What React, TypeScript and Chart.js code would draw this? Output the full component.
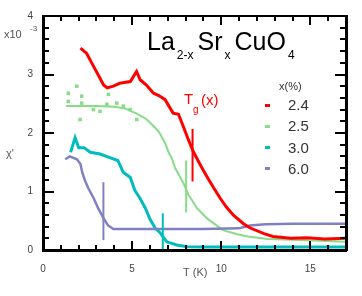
import React, { useEffect, useRef } from 'react';
import { Chart, registerables } from 'chart.js';

Chart.register(...registerables);

// ---- data (T in K, chi in units of 1e-3) ----
const T_24 = [2.1, 2.45, 2.8, 3.1, 3.4, 3.6, 3.95, 4.3, 4.9, 5.25, 5.45, 5.8, 6.2, 6.5, 6.85, 7.3, 7.6, 7.9, 8.15, 8.45, 8.8, 9.0, 9.3, 9.6, 9.95, 10.3, 10.7, 11.25, 11.6, 12.4, 12.9, 13.9, 14.8, 15.8, 17.0];
const CHI_24 = [3.45, 3.36, 3.16, 2.99, 2.82, 2.77, 2.8, 2.85, 2.88, 3.05, 2.91, 2.82, 2.68, 2.64, 2.57, 2.34, 2.32, 2.09, 1.89, 1.67, 1.47, 1.36, 1.2, 1.05, 0.88, 0.73, 0.59, 0.45, 0.38, 0.28, 0.23, 0.2, 0.21, 0.19, 0.2];

const T_25 = [1.3, 2.0, 3.0, 4.0, 4.6, 5.2, 5.8, 6.2, 6.5, 6.85, 7.05, 7.25, 7.4, 7.6, 7.9, 8.15, 8.3, 8.65, 9.2, 9.6, 10.1, 10.9, 11.5, 12.6, 14.4, 17.0];
const CHI_25 = [2.46, 2.46, 2.46, 2.45, 2.42, 2.34, 2.24, 2.12, 2.02, 1.83, 1.67, 1.55, 1.41, 1.3, 1.13, 0.95, 0.88, 0.71, 0.54, 0.45, 0.34, 0.27, 0.23, 0.19, 0.17, 0.14];
const T_25_PTS = [1.42, 1.42, 1.9, 2.08, 2.17, 2.17, 2.83, 3.2, 3.58, 3.67, 4.14, 4.51, 4.89, 5.26];
const CHI_25_PTS = [2.68, 2.54, 2.8, 2.23, 2.63, 2.51, 2.4, 2.37, 2.49, 2.66, 2.51, 2.46, 2.4, 2.23];

const T_30 = [1.55, 1.8, 2.0, 2.3, 2.65, 3.2, 3.75, 4.2, 4.5, 4.9, 5.15, 5.45, 5.75, 6.0, 6.3, 6.55, 6.95, 7.5, 8.1, 9.0, 11.0, 13.0, 15.0, 17.0];
const CHI_30 = [1.67, 1.92, 1.75, 1.75, 1.67, 1.64, 1.58, 1.53, 1.33, 1.24, 1.02, 0.88, 0.71, 0.53, 0.37, 0.3, 0.14, 0.085, 0.056, 0.05, 0.05, 0.05, 0.05, 0.05];

const T_60 = [1.25, 1.5, 1.9, 2.1, 2.2, 2.35, 2.55, 2.85, 3.1, 3.4, 3.65, 3.95, 5.0, 7.0, 9.0, 11.0, 11.6, 12.5, 14.0, 17.0];
const CHI_60 = [1.55, 1.6, 1.55, 1.47, 1.33, 1.19, 1.05, 0.88, 0.71, 0.54, 0.42, 0.36, 0.36, 0.36, 0.36, 0.37, 0.42, 0.44, 0.45, 0.45];

// T_g markers: [T, chiTop, chiBottom]
const TG_24 = [8.39, 2.07, 1.17];
const TG_25 = [8.03, 1.53, 0.64];
const TG_30 = [6.72, 0.63, 0.0];
const TG_60 = [3.39, 1.16, 0.17];

const X_TICKS = [0, 5, 10, 15];
const Y_TICKS = [0, 1, 2, 3, 4];
const LEGEND_LABELS = ['2.4', '2.5', '3.0', '6.0'];

const RED = 'rgb(255,0,0)';
const GREEN = 'rgb(135,220,135)';
const CYAN = 'rgb(0,188,188)';
const PURPLE = 'rgb(128,128,196)';
const SERIES_COLORS = [RED, GREEN, CYAN, PURPLE];

const pts = (xs: number[], ys: number[]) => xs.map((x, i) => ({ x, y: ys[i] }));
const marker = (m: number[]) => [{ x: m[0], y: m[1] }, { x: m[0], y: m[2] }];

const FONT = '"Liberation Sans", Arial, sans-serif';

// frame + inward ticks, computed from the chart's own scales
function drawFrame(ctx: CanvasRenderingContext2D, chart: any) {
  const a = chart.chartArea;
  const xs = chart.scales.x;
  const ys = chart.scales.y;
  const L = Math.round(a.left);
  const R = Math.round(a.right);
  const T = Math.round(a.top);
  const B = Math.round(a.bottom);
  ctx.save();
  ctx.globalAlpha = 1;
  ctx.globalCompositeOperation = 'source-over';
  ctx.fillStyle = 'rgb(0,0,0)';
  ctx.fillRect(L - 1, T - 1, R - L + 2, 2);
  ctx.fillRect(L - 1, B - 1, R - L + 2, 3);
  ctx.fillRect(L - 1, T - 1, 3, B - T + 2);
  ctx.fillRect(R - 1, T - 1, 3, B - T + 2);
  for (let v = 0; v <= 17; v += 1) {
    const px = Math.round(xs.getPixelForValue(v));
    const len = v % 5 === 0 ? 9 : 5;
    ctx.fillRect(px - 1, B - len, 2, len);
    ctx.fillRect(px - 1, T, 2, len);
  }
  for (let i = 0; i <= 20; i++) {
    const py = Math.round(ys.getPixelForValue(i * 0.2));
    const len = i % 5 === 0 ? 11 : 6;
    ctx.fillRect(L, py - 1, len, 2);
    ctx.fillRect(R - len, py - 1, len, 2);
  }
  ctx.restore();
}

const textPlugin = {
  id: 'texts',
  afterDraw(chart: any) {
    const ctx = chart.ctx as CanvasRenderingContext2D;
    drawFrame(ctx, chart);
    ctx.save();
    ctx.fillStyle = '#000';
    ctx.textBaseline = 'alphabetic';
    ctx.textAlign = 'left';
    const big = `25px ${FONT}`;
    const sub = `12px ${FONT}`;
    let tx = 147;
    const base = 50;
    const parts: [string, boolean][] = [['La', false], ['2-x', true], ['Sr', false], ['x', true], ['CuO', false], ['4', true]];
    for (const [t, s] of parts) {
      ctx.font = s ? sub : big;
      ctx.fillText(t, tx, s ? base + 9 : base);
      tx += ctx.measureText(t).width + (s ? 4 : 2);
    }

    ctx.fillStyle = '#333';
    ctx.font = `11px ${FONT}`;
    ctx.fillText('x(%)', 279, 90);
    ctx.font = `15px ${FONT}`;
    LEGEND_LABELS.forEach((lab, i) => {
      const y = 105 + i * 21.3;
      ctx.fillStyle = SERIES_COLORS[i];
      ctx.fillRect(265, Math.round(y - 1.5), 5, 3);
      ctx.fillStyle = '#333';
      ctx.fillText(lab, 288, y + 5);
    });

    ctx.fillStyle = RED;
    ctx.font = `15px ${FONT}`;
    ctx.fillText('T', 184, 104);
    ctx.font = `10px ${FONT}`;
    ctx.fillText('g', 193, 113);
    ctx.font = `15px ${FONT}`;
    ctx.fillText('(x)', 201, 105);

    ctx.fillStyle = '#555';
    ctx.font = `11px ${FONT}`;
    ctx.fillText('x10', 4, 38);
    ctx.font = `8px ${FONT}`;
    ctx.fillText('-3', 30, 31);
    ctx.font = `11px ${FONT}`;
    ctx.fillText("χ'", 6, 157);
    ctx.fillText('T (K)', 183, 276);
    ctx.restore();
  },
};

export default function App() {
  const ref = useRef<HTMLCanvasElement | null>(null);
  const overlayRef = useRef<HTMLCanvasElement | null>(null);
  useEffect(() => {
    if (!ref.current) return;
    const line = (data: any, color: string, w: number) => ({
      data,
      borderColor: color,
      backgroundColor: color,
      borderWidth: w,
      pointRadius: 0,
      tension: 0,
      fill: false,
    });
    const chart = new Chart(ref.current, {
      type: 'line',
      data: {
        datasets: [
          line(marker(TG_24), RED, 2),
          line(marker(TG_25), GREEN, 2),
          line(marker(TG_30), CYAN, 2),
          line(marker(TG_60), PURPLE, 2),
          line(pts(T_24, CHI_24), RED, 3),
          line(pts(T_60, CHI_60), PURPLE, 2.5),
          line(pts(T_30, CHI_30), CYAN, 3),
          line(pts(T_25, CHI_25), GREEN, 2),
          {
            data: pts(T_25_PTS, CHI_25_PTS),
            showLine: false,
            pointStyle: 'rect',
            pointRadius: 2.5,
            pointBorderWidth: 0,
            backgroundColor: GREEN,
            borderColor: GREEN,
          },
        ] as any,
      },
      options: {
        animation: false,
        responsive: false,
        devicePixelRatio: 1,
        layout: { padding: { top: 11, right: 16, left: 0, bottom: 0 } },
        plugins: { legend: { display: false }, tooltip: { enabled: false }, title: { display: false } },
        scales: {
          x: {
            type: 'linear',
            min: 0,
            max: 17,
            afterFit: (s: any) => { s.height = 46; },
            afterBuildTicks: (s: any) => { s.ticks = X_TICKS.map((v) => ({ value: v })); },
            grid: { display: false, drawTicks: false },
            border: { display: false },
            ticks: { padding: 13, maxRotation: 0, color: '#444', font: { size: 10, family: FONT } },
          },
          y: {
            type: 'linear',
            min: 0,
            max: 4,
            afterFit: (s: any) => { s.width = 43; },
            afterBuildTicks: (s: any) => { s.ticks = Y_TICKS.map((v) => ({ value: v })); },
            grid: { display: false, drawTicks: false },
            border: { display: false },
            ticks: { padding: 10, color: '#444', font: { size: 10, family: FONT } },
          },
        },
      } as any,
      plugins: [textPlugin],
    });
    // second layer for the axis frame, using the chart's scales
    const ov = overlayRef.current;
    if (ov) {
      const octx = ov.getContext('2d');
      if (octx) {
        octx.clearRect(0, 0, ov.width, ov.height);
        drawFrame(octx, chart);
      }
    }
    return () => chart.destroy();
  }, []);
  return (
    <div style={{ position: 'fixed', left: 0, top: 0, width: 362, height: 296, background: '#fff' }}>
      <canvas ref={ref} width={362} height={296} style={{ position: 'absolute', left: 0, top: 0, width: 362, height: 296 }} />
      <canvas ref={overlayRef} width={362} height={296} style={{ position: 'absolute', left: 0, top: 0, width: 362, height: 296, pointerEvents: 'none' }} />
    </div>
  );
}
